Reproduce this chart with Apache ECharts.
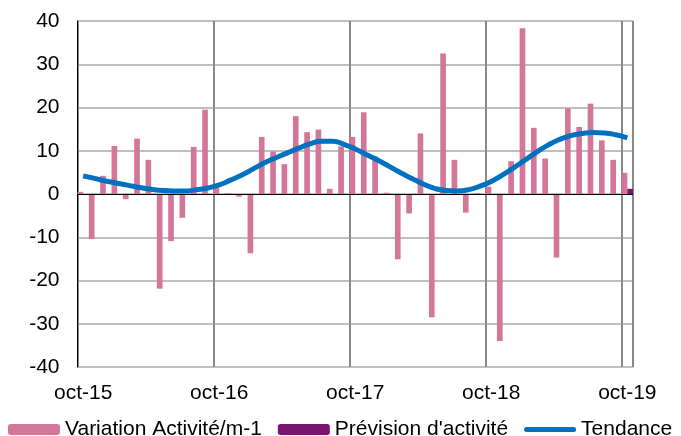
<!DOCTYPE html>
<html>
<head>
<meta charset="utf-8">
<script src="https://cdn.jsdelivr.net/npm/echarts@6/dist/echarts.min.js"></script>
<style>
  html, body { margin: 0; padding: 0; background: #fff; }
  #chart { width: 681px; height: 436px; }
</style>
</head>
<body>
<div id="chart"></div>
<script>
const months = [
  'oct-15', 'nov-15', 'déc-15', 'janv-16', 'févr-16', 'mars-16', 'avr-16', 'mai-16', 'juin-16', 'juil-16', 'août-16', 'sept-16',
  'oct-16', 'nov-16', 'déc-16', 'janv-17', 'févr-17', 'mars-17', 'avr-17', 'mai-17', 'juin-17', 'juil-17', 'août-17', 'sept-17',
  'oct-17', 'nov-17', 'déc-17', 'janv-18', 'févr-18', 'mars-18', 'avr-18', 'mai-18', 'juin-18', 'juil-18', 'août-18', 'sept-18',
  'oct-18', 'nov-18', 'déc-18', 'janv-19', 'févr-19', 'mars-19', 'avr-19', 'mai-19', 'juin-19', 'juil-19', 'août-19', 'sept-19',
  'oct-19'
]

// Variation Activité/m-1
const variation = [
  0.5, -10.4, 4.2, 11.1, -1.2, 12.8, 7.9, -21.9, -10.9, -5.5, 10.9, 19.5,
  1.6, 0.2, -0.6, -13.7, 13.2, 9.8, 6.9, 18.0, 14.3, 14.9, 1.2, 11.0,
  13.2, 18.9, 8.7, 0.3, -15.1, -4.5, 14.0, -28.5, 32.5, 7.9, -4.3, 0.2,
  1.7, -34.0, 7.6, 38.3, 15.3, 8.2, -14.7, 19.8, 15.5, 20.9, 12.4, 7.9,
  4.9
]

// Prévision d'activité (only the last month)
const prevision = [
  null, null, null, null, null, null, null, null, null, null, null, null,
  null, null, null, null, null, null, null, null, null, null, null, null,
  null, null, null, null, null, null, null, null, null, null, null, null,
  null, null, null, null, null, null, null, null, null, null, null, null,
  1.2
]

// Tendance
const tendance = [
  4.2, 3.6, 3.0, 2.5, 2.0, 1.5, 1.1, 0.8, 0.7, 0.7, 1.0, 1.4,
  2.1, 3.2, 4.4, 5.8, 7.2, 8.4, 9.5, 10.6, 11.6, 12.2, 12.2, 11.5,
  10.4, 9.1, 7.8, 6.4, 4.9, 3.6, 2.3, 1.3, 0.8, 0.7, 1.0, 1.8,
  2.9, 4.4, 6.1, 7.9, 9.7, 11.3, 12.6, 13.5, 14.0, 14.2, 14.1, 13.7,
  13.0
]

const yTicks = { min: -40, max: 40, step: 10 }

const font = 'Liberation Sans, Arial, sans-serif'
const chart = echarts.init(document.getElementById('chart'))

// thin rounded bar used as the legend icon of the trend line
const lineIcon = 'path://M2.5,0 L49.5,0 A2.5,2.5 0 0 1 49.5,5 L2.5,5 A2.5,2.5 0 0 1 2.5,0 Z'

const option = {
  animation: false,
  textStyle: { fontFamily: font },
  grid: { left: 77.5, right: 48, top: 21, bottom: 69 },
  legend: {
    left: 8,
    top: 419,
    width: 680,
    padding: 0,
    itemWidth: 52,
    itemHeight: 11,
    itemGap: 16,
    symbolKeepAspect: true,
    textStyle: { fontSize: 21, color: '#000', fontFamily: font },
    data: [
      'Variation Activité/m-1',
      "Prévision d'activité",
      { name: 'Tendance', icon: lineIcon, itemStyle: { color: '#0070C0' } }
    ]
  },
  xAxis: {
    type: 'category',
    data: months,
    boundaryGap: true,
    axisLine: { show: false },
    axisTick: { show: false },
    axisLabel: { interval: 11, fontSize: 21, color: '#000', margin: 16, fontFamily: font },
    splitLine: { show: true, interval: 11, lineStyle: { color: '#888', width: 2 } }
  },
  yAxis: {
    type: 'value',
    min: yTicks.min,
    max: yTicks.max,
    interval: yTicks.step,
    axisLine: { show: true, lineStyle: { color: '#000', width: 1 } },
    axisTick: { show: false },
    axisLabel: { fontSize: 21, color: '#000', margin: 18, fontFamily: font },
    splitLine: { lineStyle: { color: '#aaa', width: 1.5 } }
  },
  series: [
    {
      name: 'Variation Activité/m-1',
      type: 'bar',
      data: variation,
      barGap: '0%',
      barCategoryGap: '0%',
      itemStyle: { color: '#D4769A' },
      markLine: {
        silent: true,
        symbol: 'none',
        label: { show: false },
        lineStyle: { color: '#000', width: 1, type: 'solid' },
        data: [{ yAxis: 0 }]
      }
    },
    {
      name: "Prévision d'activité",
      type: 'bar',
      data: prevision,
      barGap: '0%',
      barCategoryGap: '0%',
      itemStyle: { color: '#7A1470' }
    },
    {
      name: 'Tendance',
      type: 'line',
      data: tendance,
      smooth: true,
      symbol: 'none',
      lineStyle: { color: '#0070C0', width: 5 },
      itemStyle: { color: '#0070C0' },
      z: 5
    }
  ]
}

chart.setOption(option)
</script>
</body>
</html>
